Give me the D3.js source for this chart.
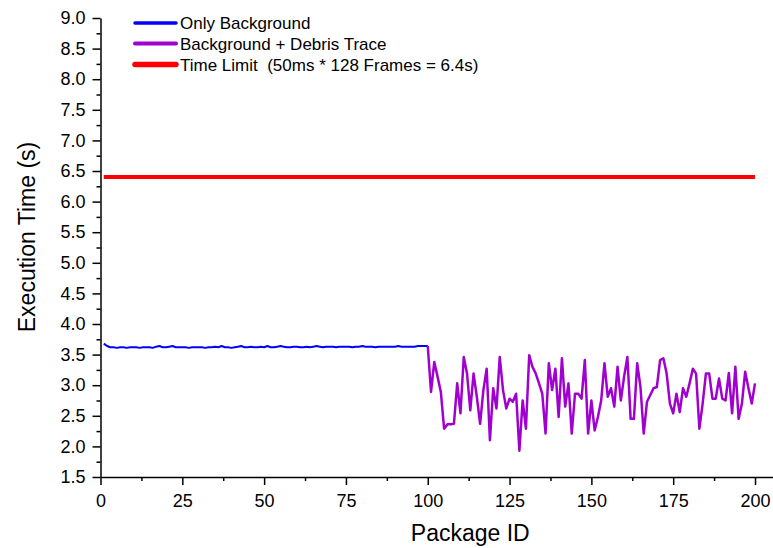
<!DOCTYPE html>
<html>
<head>
<meta charset="utf-8">
<script src="https://cdn.jsdelivr.net/npm/d3@7"></script>
<style>
  body { margin: 0; background: #fff; }
  svg text { font-family: Arial, "Liberation Sans", sans-serif; fill: #000; }
</style>
</head>
<body>
<svg id="chart" width="773" height="548"></svg>
<script>
'use strict';

// Only Background, packages 1..100
var bgIds = d3.range(1, 101);
var bgTimes = [
    3.68, 3.64, 3.62, 3.62, 3.61, 3.62, 3.62, 3.61, 3.62, 3.62,
    3.62, 3.61, 3.62, 3.62, 3.62, 3.61, 3.63, 3.64, 3.62, 3.62,
    3.63, 3.64, 3.62, 3.62, 3.62, 3.62, 3.61, 3.62, 3.62, 3.62,
    3.62, 3.61, 3.62, 3.62, 3.63, 3.62, 3.64, 3.62, 3.62, 3.61,
    3.62, 3.63, 3.64, 3.62, 3.62, 3.63, 3.62, 3.62, 3.63, 3.62,
    3.64, 3.62, 3.62, 3.63, 3.64, 3.63, 3.62, 3.62, 3.63, 3.63,
    3.62, 3.62, 3.63, 3.62, 3.63, 3.64, 3.63, 3.62, 3.63, 3.63,
    3.63, 3.62, 3.63, 3.63, 3.63, 3.63, 3.62, 3.63, 3.63, 3.64,
    3.63, 3.63, 3.63, 3.62, 3.63, 3.63, 3.63, 3.63, 3.63, 3.63,
    3.64, 3.63, 3.63, 3.63, 3.63, 3.63, 3.64, 3.64, 3.64, 3.64
];

// Background + Debris Trace, packages 100..200
var debrisIds = d3.range(100, 201);
var debrisTimes = [
    3.64,
    2.89, 3.38, 3.14, 2.89, 2.29, 2.36, 2.36, 2.37, 3.03, 2.54,
    3.46, 3.19, 2.59, 3.19, 2.81, 2.37, 2.92, 3.27, 2.10, 2.95,
    2.62, 3.46, 2.92, 2.62, 2.78, 2.73, 2.86, 1.93, 2.75, 2.29,
    3.49, 3.30, 3.19, 3.03, 2.86, 2.21, 3.36, 2.92, 3.27, 2.48,
    3.44, 2.65, 3.03, 2.21, 2.86, 2.86, 2.78, 3.41, 2.21, 2.75,
    2.26, 2.48, 2.75, 3.36, 2.81, 2.95, 2.65, 3.30, 2.75, 3.14,
    3.46, 2.45, 2.45, 3.36, 2.97, 2.21, 2.73, 2.84, 2.95, 2.97,
    3.41, 3.44, 3.19, 2.70, 2.54, 2.86, 2.56, 2.95, 2.81, 3.03,
    3.27, 3.19, 2.29, 2.70, 3.19, 3.19, 2.78, 2.78, 3.11, 2.78,
    2.75, 3.20, 2.54, 3.30, 2.45, 2.70, 3.22, 2.95, 2.70, 3.03
];

// Time limit 50ms * 128 frames
var limitIds = [1, 200];
var limitTimes = [6.4, 6.4];

var xTicks = [0, 25, 50, 75, 100, 125, 150, 175, 200];
var yTicks = [1.5, 2.0, 2.5, 3.0, 3.5, 4.0, 4.5, 5.0, 5.5, 6.0, 6.5, 7.0, 7.5, 8.0, 8.5, 9.0];

var legendLabels = ['Only Background', 'Background + Debris Trace', 'Time Limit  (50ms * 128 Frames = 6.4s)'];

var drawChart = function() {
    var svg = d3.select('#chart');

    var xScale = d3.scaleLinear().domain([0, 205.5]).range([100.5, 773]);
    var yScale = d3.scaleLinear().domain([1.5, 9]).range([477, 18]);

    var minorX = d3.range(0, 206, 12.5).filter(function(d) { return d % 25 !== 0; });
    var minorY = d3.range(1.75, 9, 0.5);

    // minor ticks first, then the main axes
    svg.append('g')
        .attr('transform', 'translate(0,' + yScale(1.5) + ')')
        .call(d3.axisBottom(xScale).tickValues(minorX).tickSize(4).tickFormat(''))
        .call(function(g) { g.select('.domain').remove(); })
        .selectAll('line').attr('stroke-width', 1.5);

    svg.append('g')
        .attr('transform', 'translate(' + xScale(0) + ',0)')
        .call(d3.axisLeft(yScale).tickValues(minorY).tickSize(4).tickFormat(''))
        .call(function(g) { g.select('.domain').remove(); })
        .selectAll('line').attr('stroke-width', 1.5);

    var gx = svg.append('g')
        .attr('transform', 'translate(0,' + yScale(1.5) + ')')
        .call(d3.axisBottom(xScale).tickValues(xTicks).tickSize(8).tickSizeOuter(0).tickPadding(9));
    gx.select('.domain').attr('stroke-width', 1.5);
    gx.selectAll('line').attr('stroke-width', 1.5);
    gx.selectAll('text').style('font-size', '18px');

    var gy = svg.append('g')
        .attr('transform', 'translate(' + xScale(0) + ',0)')
        .call(d3.axisLeft(yScale).tickValues(yTicks).tickSize(8).tickSizeOuter(0).tickPadding(7)
            .tickFormat(d3.format('.1f')));
    gy.select('.domain').attr('stroke-width', 1.5);
    gy.selectAll('line').attr('stroke-width', 1.5);
    gy.selectAll('text').style('font-size', '18px');

    svg.append('text')
        .attr('x', xScale(113))
        .attr('y', 541)
        .attr('text-anchor', 'middle')
        .style('font-size', '23px')
        .text('Package ID');

    svg.append('text')
        .attr('transform', 'translate(35,237) rotate(-90)')
        .attr('text-anchor', 'middle')
        .style('font-size', '23px')
        .text('Execution Time (s)');

    var line = d3.line()
        .x(function(d) { return xScale(d[0]); })
        .y(function(d) { return yScale(d[1]); });

    var series = [
        { ids: bgIds, vals: bgTimes, color: '#0000ff', width: 2 },
        { ids: debrisIds, vals: debrisTimes, color: '#a000d0', width: 2.5 },
        { ids: limitIds, vals: limitTimes, color: '#ff0000', width: 4 }
    ];

    series.forEach(function(s) {
        svg.append('path')
            .attr('d', line(d3.zip(s.ids, s.vals)))
            .attr('fill', 'none')
            .attr('stroke', s.color)
            .attr('stroke-width', s.width)
            .attr('stroke-linejoin', 'round');
    });

    // legend
    var legend = svg.append('g').attr('transform', 'translate(135,23)');
    var rowY = [0, 20.5, 41.5];
    series.forEach(function(s, i) {
        legend.append('line')
            .attr('x1', 0).attr('x2', 41)
            .attr('y1', rowY[i]).attr('y2', rowY[i])
            .attr('stroke', s.color)
            .attr('stroke-width', s.width + 1.5)
            .attr('stroke-linecap', 'round');
        legend.append('text')
            .attr('x', 45)
            .attr('y', rowY[i] + 6)
            .style('font-size', '17px')
            .style('white-space', 'pre')
            .text(legendLabels[i]);
    });
};

drawChart();
</script>
</body>
</html>
